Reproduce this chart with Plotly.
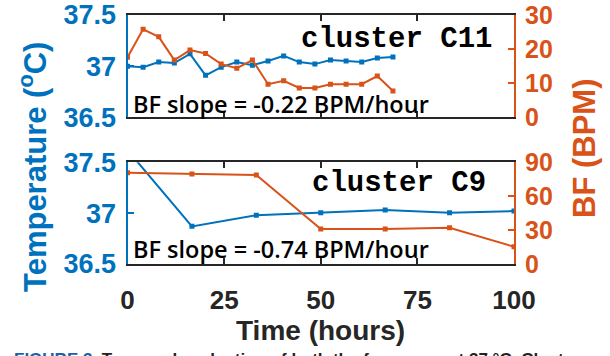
import plotly.graph_objects as go

# ---- data -------------------------------------------------------------
# cluster C11: sampled roughly every 4 hours
c11_time = [0, 4.04, 8.08, 12.12, 16.16, 20.2, 24.24, 28.28, 32.32, 36.36,
            40.4, 44.44, 48.48, 52.52, 56.56, 60.6, 64.64, 68.68]
c11_temp = [37.00, 36.99, 37.04, 37.03, 37.12, 36.91, 36.99, 37.04, 37.01, 37.05,
            37.10, 37.04, 37.02, 37.06, 37.05, 37.04, 37.08, 37.09]
c11_bf = [17.6, 25.8, 23.6, 16.8, 19.7, 18.7, 15.6, 14.4, 16.8, 9.7,
          10.7, 8.6, 8.6, 9.7, 9.7, 9.7, 12.1, 7.7]

# cluster C9: sampled every ~16.7 hours
c9_time = [0, 16.67, 33.33, 50, 66.67, 83.33, 100]
c9_temp = [37.62, 36.87, 36.98, 37.005, 37.03, 37.005, 37.02]
c9_bf = [80.8, 79.6, 78.8, 31.0, 31.0, 32.1, 15.3]

x_ticks = [0, 25, 50, 75, 100]
temp_ticks = [36.5, 37, 37.5]
bf_ticks_c11 = [0, 10, 20, 30]
bf_ticks_c9 = [0, 30, 60, 90]

BLUE = "#0072BD"
ORANGE = "#D95319"
W, H = 610, 356


def px_x(x):
    return x / W


def px_y(y):
    return 1 - y / H


X_DOM = [px_x(127.5), px_x(514)]
TOP_DOM = [px_y(117.3), px_y(15)]
BOT_DOM = [px_y(264), px_y(162.3)]

fig = go.Figure()

line_kw = dict(mode="lines+markers", showlegend=False, hoverinfo="skip")

fig.add_trace(go.Scatter(x=c11_time, y=c11_temp, xaxis="x2", yaxis="y",
                         line=dict(color=BLUE, width=2),
                         marker=dict(symbol="square", size=5, color=BLUE), **line_kw))
fig.add_trace(go.Scatter(x=c11_time, y=c11_bf, xaxis="x2", yaxis="y2",
                         line=dict(color=ORANGE, width=2),
                         marker=dict(symbol="square", size=5, color=ORANGE), **line_kw))
fig.add_trace(go.Scatter(x=c9_time, y=c9_temp, xaxis="x", yaxis="y3",
                         line=dict(color=BLUE, width=2),
                         marker=dict(symbol="square", size=5, color=BLUE), **line_kw))
fig.add_trace(go.Scatter(x=c9_time, y=c9_bf, xaxis="x", yaxis="y4",
                         line=dict(color=ORANGE, width=2),
                         marker=dict(symbol="square", size=5, color=ORANGE), **line_kw))

TICK_FONT = "Liberation Sans, Arial, sans-serif"

x_common = dict(domain=X_DOM, range=[0, 100], tickvals=x_ticks, automargin=False,
                showline=True, linecolor="#262626", linewidth=2, mirror="ticks",
                ticks="inside", ticklen=6, tickwidth=1.5, tickcolor="#262626",
                showgrid=False, zeroline=False, fixedrange=True)

y_left = dict(range=[36.5, 37.5], tickvals=temp_ticks, ticktext=["36.5", "37", "37.5"],
              showline=True, linecolor=BLUE, linewidth=2, ticks="inside", ticklen=6,
              tickwidth=1.5, tickcolor=BLUE, showgrid=False, zeroline=False,
              automargin=False,
              tickfont=dict(family=TICK_FONT, size=27, color=BLUE, weight="bold"),
              ticklabelstandoff=4)

y_right = dict(side="right", showline=True, linecolor=ORANGE, linewidth=2,
               ticks="inside", ticklen=6, tickwidth=1.5, tickcolor=ORANGE,
               showgrid=False, zeroline=False, automargin=False,
               tickfont=dict(family=TICK_FONT, size=25, color=ORANGE, weight="bold"),
               ticklabelstandoff=4)

fig.update_layout(
    width=W, height=H,
    margin=dict(l=0, r=0, t=0, b=0, pad=0, autoexpand=False),
    paper_bgcolor="white", plot_bgcolor="white",
    xaxis=dict(**x_common, anchor="y3",
               tickfont=dict(family=TICK_FONT, size=26, color="#262626", weight="bold"),
               ticklabelstandoff=12),
    xaxis2=dict(**x_common, anchor="y", showticklabels=False, matches="x"),
    yaxis=dict(**y_left, domain=TOP_DOM, anchor="x2"),
    yaxis2=dict(**y_right, range=[0, 30], tickvals=bf_ticks_c11,
                overlaying="y", anchor="x2"),
    yaxis3=dict(**y_left, domain=BOT_DOM, anchor="x"),
    yaxis4=dict(**y_right, range=[0, 90], tickvals=bf_ticks_c9,
                overlaying="y3", anchor="x"),
)

MONO = "Liberation Mono, Courier New, monospace"
SANS = "Open Sans, Noto Sans, sans-serif"

annotations = [
    # panel labels
    dict(x=px_x(299), y=px_y(39), text="cluster C11", xanchor="left", yanchor="middle",
         font=dict(family=MONO, size=29, color="black", weight="bold")),
    dict(x=px_x(310), y=px_y(183), text="cluster C9", xanchor="left", yanchor="middle",
         font=dict(family=MONO, size=29, color="black", weight="bold")),
    # slope notes
    dict(x=px_x(131), y=px_y(104), text="BF slope = -0.22 BPM/hour", xanchor="left",
         yanchor="middle", font=dict(family=SANS, size=23.5, color="black", weight=600)),
    dict(x=px_x(131), y=px_y(249), text="BF slope = -0.74 BPM/hour", xanchor="left",
         yanchor="middle", font=dict(family=SANS, size=23.5, color="black", weight=600)),
    # shared axis titles
    dict(x=px_x(33), y=px_y(167), text="Temperature (<sup>o</sup>C)", textangle=-90,
         xanchor="center", yanchor="middle",
         font=dict(family=TICK_FONT, size=31, color=BLUE, weight="bold")),
    dict(x=px_x(584), y=px_y(149), text="BF (BPM)", textangle=-90,
         xanchor="center", yanchor="middle",
         font=dict(family=TICK_FONT, size=31, color=ORANGE, weight="bold")),
    dict(x=px_x(320), y=px_y(330), text="Time (hours)", xanchor="center", yanchor="middle",
         font=dict(family=TICK_FONT, size=28, color="#262626", weight="bold")),
    # caption line beneath the figure
    dict(x=px_x(12), y=px_y(359), xanchor="left", yanchor="middle",
         text="<span style='color:#1f5fa8'>FIGURE 3</span>  Temporal evaluation of both the frequency at 37 °C. Clusters",
         font=dict(family=TICK_FONT, size=17, color="#222222", weight="bold")),
]
for a in annotations:
    a.update(xref="paper", yref="paper", showarrow=False)
fig.update_layout(annotations=annotations)

fig.write_html("out.html", config={"displayModeBar": False})
